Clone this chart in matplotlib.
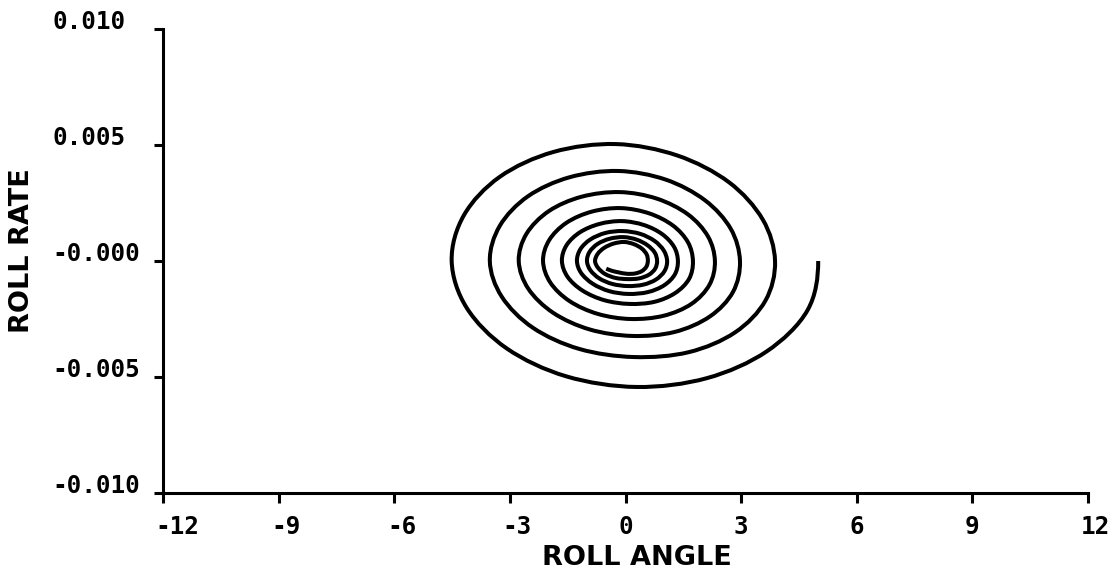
import matplotlib
matplotlib.use("Agg")
import matplotlib.pyplot as plt
from matplotlib.path import Path
from matplotlib.patches import PathPatch
from matplotlib.transforms import ScaledTranslation

# phase-plane trajectory, one row per quarter turn (clockwise from the start point)
roll_angle = [
    5.00, 4.72, 3.66, 2.11,
    0.29, -1.54, -3.08, -4.12,
    -4.51, -4.19, -3.26, -1.87,
    -0.25, 1.34, 2.68, 3.56,
    3.88, 3.63, 2.84, 1.64,
    0.22, -1.20, -2.40, -3.21,
    -3.52, -3.26, -2.53, -1.45,
    -0.19, 1.04, 2.06, 2.73,
    2.97, 2.79, 2.19, 1.27,
    0.17, -0.93, -1.87, -2.52,
    -2.77, -2.57, -1.99, -1.14,
    -0.15, 0.81, 1.62, 2.14,
    2.32, 2.18, 1.71, 0.99,
    0.13, -0.72, -1.45, -1.95,
    -2.14, -1.98, -1.53, -0.87,
    -0.12, 0.62, 1.23, 1.62,
    1.75, 1.65, 1.29, 0.75,
    0.10, -0.55, -1.11, -1.50,
    -1.65, -1.53, -1.18, -0.67,
    -0.09, 0.48, 0.95, 1.26,
    1.36, 1.28, 1.00, 0.58,
    0.08, -0.42, -0.85, -1.15,
    -1.26, -1.17, -0.91, -0.52,
    -0.07, 0.38, 0.75, 0.99,
    1.08, 1.01, 0.79, 0.46,
    0.06, -0.34, -0.68, -0.91,
    -1.00, -0.93, -0.72, -0.41,
    -0.05, 0.29, 0.57, 0.76,
    0.82, 0.77, 0.61, 0.35,
    0.05, -0.26, -0.53, -0.71,
    -0.79, -0.72, -0.55, -0.31,
    -0.04, 0.21, 0.42, 0.55,
    0.58, 0.54, 0.42, 0.24,
    0.03, -0.18, -0.36, -0.50,
]
roll_rate = [
    0.0, -0.00213, -0.00390, -0.00505,
    -0.00543, -0.00497, -0.00377, -0.00202,
    0.0, 0.00198, 0.00363, 0.00470,
    0.00504, 0.00455, 0.00340, 0.00179,
    0.0, -0.00171, -0.00308, -0.00393,
    -0.00414, -0.00379, -0.00288, -0.00154,
    0.0, 0.00152, 0.00279, 0.00361,
    0.00388, 0.00351, 0.00262, 0.00139,
    0.0, -0.00133, -0.00239, -0.00306,
    -0.00323, -0.00295, -0.00224, -0.00120,
    0.0, 0.00117, 0.00215, 0.00277,
    0.00297, 0.00269, 0.00201, 0.00106,
    0.0, -0.00102, -0.00185, -0.00236,
    -0.00250, -0.00228, -0.00173, -0.00093,
    0.0, 0.00090, 0.00165, 0.00213,
    0.00228, 0.00205, 0.00153, 0.00081,
    0.0, -0.00077, -0.00138, -0.00176,
    -0.00185, -0.00169, -0.00128, -0.00069,
    0.0, 0.00068, 0.00124, 0.00160,
    0.00172, 0.00155, 0.00116, 0.00061,
    0.0, -0.00058, -0.00105, -0.00134,
    -0.00142, -0.00130, -0.00098, -0.00052,
    0.0, 0.00051, 0.00093, 0.00121,
    0.00129, 0.00117, 0.00087, 0.00046,
    0.0, -0.00044, -0.00080, -0.00102,
    -0.00108, -0.00099, -0.00075, -0.00040,
    0.0, 0.00040, 0.00074, 0.00096,
    0.00103, 0.00092, 0.00068, 0.00036,
    0.0, -0.00033, -0.00059, -0.00075,
    -0.00078, -0.00073, -0.00056, -0.00030,
    0.0, 0.00031, 0.00057, 0.00075,
    0.00082, 0.00073, 0.00054, 0.00028,
    0.0, -0.00025, -0.00044, -0.00054,
    -0.00055, -0.00049, -0.00042, -0.00033,
]

x_ticks = [-12, -9, -6, -3, 0, 3, 6, 9, 12]
x_tick_labels = ["-12", "-9", "-6", "-3", "0", "3", "6", "9", "12"]
y_ticks = [0.010, 0.005, 0.0, -0.005, -0.010]
y_tick_labels = ["0.010", "0.005", "-0.000", "-0.005", "-0.010"]


def smooth_path(xs, ys):
    # cubic Bezier path through every point (Catmull-Rom tangents);
    # the curve leaves the first point straight down (x extreme, rate = 0)
    pts = list(zip(xs, ys))
    n = len(pts)
    start_ref = (pts[1][0], 2 * pts[0][1] - pts[1][1])
    verts = [pts[0]]
    codes = [Path.MOVETO]
    for i in range(n - 1):
        p0 = pts[i - 1] if i > 0 else start_ref
        p1 = pts[i]
        p2 = pts[i + 1]
        p3 = pts[min(i + 2, n - 1)]
        c1 = (p1[0] + (p2[0] - p0[0]) / 6, p1[1] + (p2[1] - p0[1]) / 6)
        c2 = (p2[0] - (p3[0] - p1[0]) / 6, p2[1] - (p3[1] - p1[1]) / 6)
        verts += [c1, c2, p2]
        codes += [Path.CURVE4] * 3
    return Path(verts, codes)


fig = plt.figure(figsize=(11.19, 5.78), dpi=100)
ax = fig.add_axes([163 / 1119, 85 / 578, 925 / 1119, 464 / 578])

ax.add_patch(PathPatch(smooth_path(roll_angle, roll_rate), fill=False,
                       edgecolor="black", lw=2.9, joinstyle="round",
                       capstyle="butt"))

ax.set_xlim(-12, 12)
ax.set_ylim(-0.010, 0.010)

for side in ["top", "right"]:
    ax.spines[side].set_visible(False)
for side in ["left", "bottom"]:
    ax.spines[side].set_linewidth(2.2)
    ax.spines[side].set_capstyle("projecting")

tick_size = 17.5
tick_font = dict(family="DejaVu Sans Mono", weight="bold", size=tick_size)
ax.set_xticks(x_ticks, x_tick_labels, **tick_font)
ax.set_yticks(y_ticks, y_tick_labels, **tick_font)
ax.tick_params(axis="x", direction="out", length=7, width=2.2, pad=9)
ax.tick_params(axis="y", direction="out", length=6.5, width=2.2, pad=73.4)

# plotter-style labels: first character sits on the tick
cell = 0.602 * tick_size / 72
shift = ScaledTranslation(-cell / 2, 0, fig.dpi_scale_trans)
for lbl in ax.get_xticklabels():
    lbl.set_horizontalalignment("left")
    lbl.set_transform(lbl.get_transform() + shift)
for lbl in ax.get_yticklabels():
    lbl.set_horizontalalignment("left")
    lbl.set_verticalalignment("baseline")

label_font = dict(family="DejaVu Sans", weight="bold", size=19.5)
ax.set_xlabel("ROLL ANGLE", **label_font)
ax.set_ylabel("ROLL RATE", **label_font)
ax.xaxis.set_label_coords(0.512, -0.140)
ax.xaxis.label.set_verticalalignment("center")
ax.yaxis.set_label_coords(-0.1524, 0.5216)
ax.yaxis.label.set_verticalalignment("center")

fig.savefig("out.png", dpi=100)
